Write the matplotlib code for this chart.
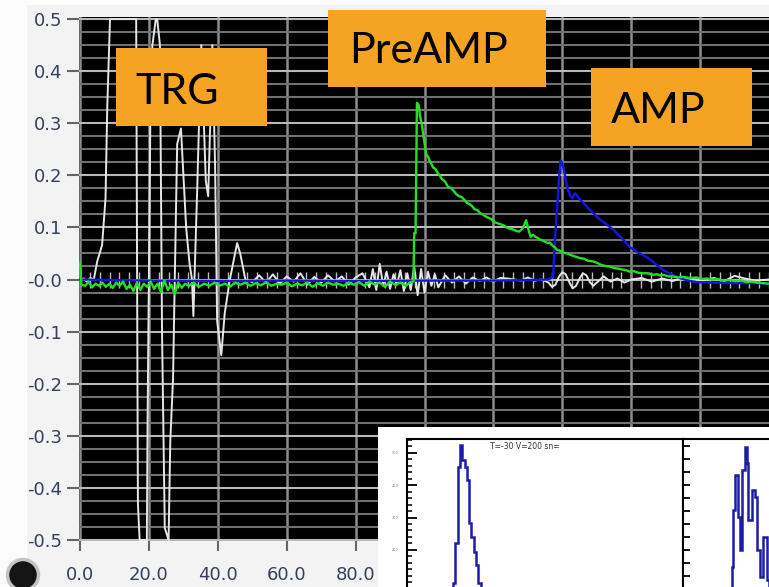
import matplotlib
matplotlib.use('Agg')
import matplotlib.pyplot as plt
from matplotlib.ticker import MultipleLocator, FixedLocator, NullFormatter
from matplotlib.patches import Rectangle, Ellipse

# Osciloscopio: TRG (blanco), PreAMP (verde), AMP (azul)
trg_x = [0.0, 1.0, 2.0, 3.0, 4.0, 5.0, 6.4, 7.4, 7.9, 8.7, 16.3, 16.8, 17.3, 19.4, 19.6,
         20.4, 21.0, 22.0, 22.4, 23.2, 23.8, 24.6, 25.7, 26.2, 27.0, 27.3, 28.2, 29.3,
         30.8, 31.8, 32.5, 32.9, 34.0, 34.5, 35.2, 36.5, 37.2, 37.8, 38.4, 39.2, 39.8,
         41.0, 42.0, 43.5, 45.6, 46.5, 48.0,
         50, 52, 54, 56, 58, 60, 62, 64, 66, 68, 70, 72, 74, 76, 78, 80, 82, 84, 85, 86,
         87, 88, 89, 90, 91, 92, 93, 94, 95, 96, 97, 98, 99, 100, 101, 102, 103, 104,
         106, 108, 110, 112, 114, 116, 118, 120, 122, 124, 126, 128, 130, 132, 134, 136,
         137, 138, 139, 140, 141, 142, 143, 144, 145, 146, 147, 148, 149, 150, 152, 154,
         156, 158, 160, 163, 166, 169, 172, 175, 178, 181, 184, 187, 190, 193, 196, 200]
trg_y = [0.000, 0.002, -0.004, 0.003, 0.000, 0.035, 0.066, 0.156, 0.33, 0.50, 0.50, -0.43,
         -0.50, -0.50, -0.275, 0.30, 0.45, 0.50, 0.50, 0.45, -0.10, -0.477, -0.50, -0.31,
         -0.19, -0.074, 0.26, 0.29, 0.10, 0.03, 0.00, -0.07, 0.17, 0.29, 0.45, 0.19, 0.16,
         0.30, 0.45, 0.22, -0.08, -0.145, -0.065, 0.0, 0.07, 0.05, 0.0,
         -0.005, 0.008, -0.006, 0.010, -0.008, 0.006, -0.004, 0.012, -0.010, 0.005, -0.006,
         0.008, -0.004, 0.006, -0.010, 0.004, 0.012, -0.015, 0.020, -0.020, 0.030, -0.012,
         0.015, -0.018, 0.010, -0.010, 0.018, -0.022, 0.012, -0.020, 0.025, -0.030, 0.020,
         -0.025, 0.015, -0.012, 0.010, -0.015, 0.008, -0.006, 0.006, -0.008, 0.004, -0.003,
         0.004, -0.004, 0.003, 0.002, 0.000, -0.002, 0.004, -0.002, 0.0, -0.006, -0.014,
         -0.010, 0.005, 0.014, 0.010, -0.005, -0.017, -0.012, 0.002, 0.012, 0.008, -0.005,
         -0.012, -0.006, 0.006, -0.004, 0.002, -0.006, 0.0, 0.003, -0.004, 0.002, -0.003,
         0.004, 0.001, -0.002, 0.003, -0.003, 0.007, 0.002, -0.002, 0.0]

pre_x = [0.0, 0.4, 1.5, 2.5, 3.5, 4.5, 5.5, 6.5, 7.5, 8.5, 9.5, 10.5, 11.5, 12.5, 13.5, 14.5,
         15.5, 16.5, 17.5, 18.5, 19.5, 20.5, 21.5, 22.5, 23.5, 24.5, 25.5, 26.5, 27.5,
         28.5, 29.5, 30.5, 31.5, 33, 34.5, 36, 37.5, 39, 40.5, 42, 43.5, 45, 46.5, 48,
         49.5, 51, 52.5, 54, 55.5, 57, 58.5, 60, 61.5, 63, 64.5, 66, 67.5, 69, 70.5, 72,
         73.5, 75, 76.5, 78, 79.5, 81, 82.5, 84, 85.5, 87, 88.5, 90, 91.5, 93, 94.5, 96,
         96.8, 97.0, 97.4, 97.8, 98.3, 98.8, 99.3, 99.6, 100.0, 100.5, 101.0, 101.5, 102.0,
         102.5, 103.2, 103.9, 104.5, 105.0, 106.0, 106.8, 107.6, 108.5, 109.2, 110.0,
         110.8, 111.6, 112.3, 113.0, 113.8, 114.5, 115.4, 116.3, 117.1, 118.0, 118.8,
         119.5, 120.4, 121.2, 122.1, 123.0, 123.8, 124.5, 125.3, 126.0, 126.8, 127.5,
         128.5, 129.5, 130.2, 130.8, 131.5, 132.0, 132.8, 133.5, 134.6, 135.7, 136.4,
         137.0, 137.8, 138.5, 139.5, 140.5, 141.5, 142.5, 143.8, 145.2, 146.3, 147.5,
         148.8, 150.1, 151.3, 152.5, 153.8, 155.0, 156.2, 157.5, 158.5, 159.6, 160.8,
         162.0, 163.5, 165.0, 166.2, 167.5, 168.5, 169.4, 170.8, 172.0, 173.5, 175.0,
         177.0, 179.0, 180.5, 182.0, 183.5, 185.0, 186.8, 188.5, 190.2, 192.0, 193.5,
         195.0, 196.7, 198.3, 200.0]
pre_y = [0.032, -0.010, -0.012, -0.004, -0.015, -0.008, -0.012, -0.006, -0.014, -0.008,
         -0.016, -0.006, -0.012, -0.004, -0.018, -0.010, -0.022, -0.006, -0.020, -0.008,
         -0.014, -0.004, -0.018, -0.008, -0.024, -0.002, -0.020, -0.010, -0.028, -0.006,
         -0.016, -0.008, -0.012, -0.006, -0.014, -0.008, -0.012, -0.006, -0.012, -0.008,
         -0.014, -0.006, -0.010, -0.006, -0.012, -0.007, -0.011, -0.005, -0.012, -0.008,
         -0.010, -0.006, -0.013, -0.008, -0.011, -0.006, -0.014, -0.007, -0.012, -0.006,
         -0.010, -0.008, -0.012, -0.006, -0.010, -0.005, -0.012, -0.004, -0.010, -0.006,
         -0.014, -0.004, -0.010, -0.006, -0.012, -0.005,
         -0.004, 0.089, 0.089, 0.339, 0.335, 0.31, 0.295, 0.28, 0.262, 0.24, 0.236, 0.228,
         0.222, 0.215, 0.212, 0.204, 0.199, 0.193, 0.188, 0.178, 0.176, 0.170, 0.164,
         0.160, 0.158, 0.153, 0.147, 0.145, 0.141, 0.135, 0.133, 0.127, 0.124, 0.120,
         0.118, 0.115, 0.110, 0.108, 0.106, 0.104, 0.100, 0.098, 0.097, 0.095, 0.093,
         0.092, 0.098, 0.114, 0.095, 0.082, 0.086, 0.083, 0.080, 0.077, 0.074, 0.070,
         0.071, 0.066, 0.062, 0.057, 0.055, 0.051, 0.050, 0.047, 0.044, 0.041, 0.040,
         0.036, 0.035, 0.032, 0.028, 0.026, 0.025, 0.022, 0.021, 0.019, 0.018, 0.015,
         0.016, 0.013, 0.012, 0.012, 0.009, 0.010, 0.008, 0.009, 0.006, 0.006, 0.004,
         0.005, 0.003, 0.004, 0.001, 0.002, 0.000, 0.001, -0.002, -0.001, -0.003, -0.002,
         -0.005, -0.004, -0.006, -0.007, -0.008]

amp_x = [0, 20, 40, 60, 80, 100, 120, 130, 136, 137.3, 137.9, 138.5, 139.0, 139.5, 140.0,
         140.5, 141.4, 142.3, 142.9, 143.7, 145.2, 146.3, 147.5, 148.8, 150.1, 151.3, 152.5,
         153.8, 155, 156.2, 157.5, 158.5, 159.6, 160.8, 162, 163.3, 164.5, 165.8, 167,
         168.2, 169.4, 170.7, 172, 174, 176.5, 179, 184, 190, 195, 200]
amp_y = [0.000, -0.002, -0.003, -0.002, -0.003, -0.002, -0.002, -0.001, 0.000, 0.005, 0.080,
         0.137, 0.190, 0.229, 0.222, 0.21, 0.178, 0.160, 0.156, 0.166, 0.153, 0.146, 0.137,
         0.129, 0.12, 0.113, 0.108, 0.101, 0.095, 0.086, 0.078, 0.070, 0.062, 0.057,
         0.052, 0.047, 0.043, 0.037, 0.030, 0.024, 0.018, 0.013, 0.009, 0.003, -0.002,
         -0.005, -0.006, -0.007, -0.007, -0.008]

y_ticks = [0.5, 0.4, 0.3, 0.2, 0.1, 0.0, -0.1, -0.2, -0.3, -0.4, -0.5]
y_labels = ['0.5', '0.4', '0.3', '0.2', '0.1', '-0.0', '-0.1', '-0.2', '-0.3', '-0.4', '-0.5']
x_ticks = [0, 20, 40, 60, 80, 100, 120, 140, 160, 180]
x_labels = ['0.0', '20.0', '40.0', '60.0', '80.0', '100.0', '120.0', '140.0', '160.0',
            '180.0']

# Histogramas del recuadro (cuentas por canal)
hist1_edges = [18, 19, 20, 21, 22, 23, 24, 25, 26, 27, 28, 29, 30, 31, 32, 33]
hist1_counts = [60, 70, 97, 221, 457, 524, 478, 457, 416, 283, 241, 194, 153, 97, 70]
hist2_edges = [20.5, 21.2, 21.7, 22.6, 24.0, 24.8, 25.5, 27.0, 27.7, 28.4, 29.9, 31.3,
               32.0, 33.5, 34.9, 36.4, 37.5]
hist2_counts = [60, 148, 323, 432, 303, 200, 447, 519, 469, 292, 385, 364, 200, 117, 241, 107]
inset_title = 'T=-30 V=200 sn='

W, H = 769, 587
fig = plt.figure(figsize=(W / 100, H / 100), dpi=100)
fig.patch.set_facecolor('#f3f3f3')


def fx(px):
    return px / W


def fy(py):
    return 1 - py / H


# franjas claras del panel
fig.patches.append(Rectangle((0, 0), fx(27), 1, transform=fig.transFigure,
                             facecolor='#fcfcfc', edgecolor='none', zorder=-5))
fig.patches.append(Rectangle((0, fy(5)), 1, 5 / H, transform=fig.transFigure,
                             facecolor='#fcfcfc', edgecolor='none', zorder=-5))

ax = fig.add_axes([fx(79), fy(541), (W - 79) / W, 524 / H])
ax.set_facecolor('black')
ax.set_xlim(-0.3, 200)
ax.set_ylim(-0.502, 0.504)
for s in ax.spines.values():
    s.set_visible(False)

ax.yaxis.set_major_locator(FixedLocator(y_ticks))
ax.set_yticklabels(y_labels)
ax.yaxis.set_minor_locator(MultipleLocator(0.025))
ax.xaxis.set_major_locator(FixedLocator(x_ticks))
ax.set_xticklabels(x_labels)

ax.set_axisbelow(True)
ax.grid(which='minor', axis='y', color='#707070', linewidth=1.5)
ax.grid(which='major', axis='y', color='#b8b8b8', linewidth=1.5)
ax.grid(which='major', axis='x', color='#8c8c8c', linewidth=1.8)

lblcolor = '#35405a'
ax.tick_params(axis='y', which='major', length=9, width=1.5, color='#666666', pad=3,
               labelsize=13, labelcolor=lblcolor)
ax.tick_params(axis='y', which='minor', length=0)
ax.tick_params(axis='x', which='major', length=7, width=1.5, color='#666666', pad=11,
               labelsize=13, labelcolor=lblcolor)

# marcas sobre la linea central
cent = ax.secondary_xaxis(0, transform=ax.transData)
cent.spines['bottom'].set_visible(False)
cent.xaxis.set_major_locator(MultipleLocator(20 / 7))
cent.xaxis.set_major_formatter(NullFormatter())
cent.tick_params(direction='inout', length=12, width=1, color='#bdbdbd')

ax.plot(trg_x, trg_y, color='#e6e6e6', linewidth=1.4, zorder=3)
ax.plot(amp_x, amp_y, color='#1414e6', linewidth=1.7, zorder=4)
ax.plot(pre_x, pre_y, color='#22e022', linewidth=1.7, zorder=5)

# etiquetas naranjas
orange = '#f4a322'
boxes = [('TRG', 116, 48, 267, 126, 135, 104),
         ('PreAMP', 328, 10, 546, 87, 349, 63),
         ('AMP', 591, 68, 752, 146, 611, 123)]
for txt, x0, y0, x1, y1, tx, ty in boxes:
    fig.patches.append(Rectangle((fx(x0), fy(y1)), (x1 - x0) / W, (y1 - y0) / H,
                                 transform=fig.transFigure, facecolor=orange,
                                 edgecolor='none', zorder=6))
    fig.text(fx(tx), fy(ty), txt, family='Lato', fontsize=31, color='black',
             ha='left', va='baseline', zorder=7)

# recuadro blanco con histogramas
fig.patches.append(Rectangle((fx(378), 0), (W - 378) / W, (587 - 427) / H,
                             transform=fig.transFigure, facecolor='white',
                             edgecolor='none', zorder=8))
hist_color = '#1c1ca8'
ins1 = fig.add_axes([fx(407), fy(614.5), 276 / W, 175.5 / H], zorder=9)
ins1.set_facecolor('white')
ins1.set_xlim(0, 120)
ins1.set_ylim(0, 543)
ins1.stairs(hist1_counts, hist1_edges, color=hist_color, linewidth=1.8)
ins1.yaxis.set_major_locator(FixedLocator([200, 300, 400, 500]))
ins1.yaxis.set_minor_locator(MultipleLocator(20))
ins1.set_xticks([])
ins1.tick_params(axis='y', which='major', direction='in', length=7, width=1.3,
                 labelsize=2.5, labelcolor='#8a7a9a', pad=6)
ins1.tick_params(axis='y', which='minor', direction='in', length=3.5, width=1.1)
for s in ins1.spines.values():
    s.set_linewidth(1.5)
ins1.text(0.30, 0.955, inset_title, transform=ins1.transAxes, fontsize=5.5,
          color='#333333', ha='left', va='center')

ins2 = fig.add_axes([fx(683), fy(614.5), 276 / W, 175.5 / H], zorder=9)
ins2.set_facecolor('white')
ins2.set_xlim(0, 120)
ins2.set_ylim(0, 543)
ins2.stairs(hist2_counts, hist2_edges, color=hist_color, linewidth=1.8)
ins2.yaxis.set_major_locator(MultipleLocator(40))
ins2.set_xticks([])
ins2.tick_params(axis='y', which='major', direction='in', length=5, width=1.3,
                 labelleft=False)
for s in ins2.spines.values():
    s.set_linewidth(1.5)

# boton negro abajo a la izquierda
fig.patches.append(Ellipse((fx(23), fy(575)), 31 / W, 31 / H, transform=fig.transFigure,
                           facecolor='#141414', edgecolor='#c4c4c4', linewidth=2.5,
                           zorder=2))

fig.savefig('out.png', dpi=100, facecolor=fig.get_facecolor())
